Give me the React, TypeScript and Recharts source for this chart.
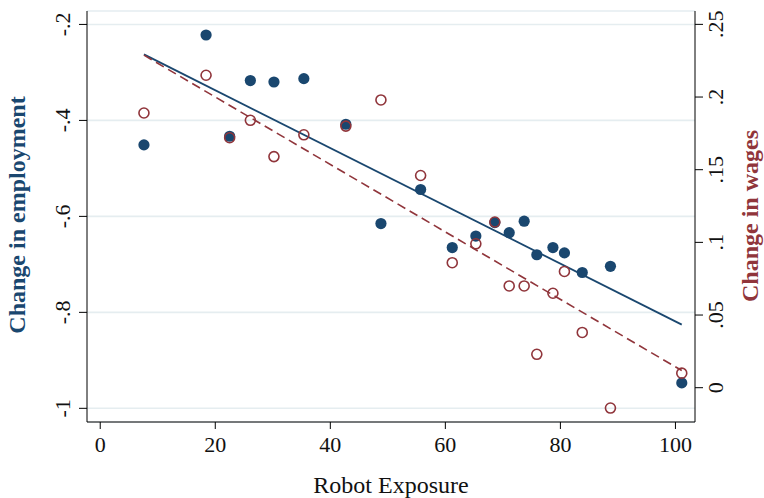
import React from 'react';
import { ScatterChart, Scatter, XAxis, YAxis, CartesianGrid } from 'recharts';

const robotExposure = [7.6, 18.4, 22.5, 26.1, 30.2, 35.4, 42.7, 48.8, 55.7, 61.2, 65.3, 68.6, 71.1, 73.7, 75.9, 78.7, 80.7, 83.8, 88.7, 101.1];
const employmentChange = [-0.451, -0.222, -0.433, -0.317, -0.32, -0.313, -0.408, -0.615, -0.544, -0.665, -0.641, -0.613, -0.634, -0.61, -0.68, -0.665, -0.676, -0.717, -0.704, -0.947];
const wageChange = [0.189, 0.215, 0.172, 0.184, 0.159, 0.174, 0.18, 0.198, 0.146, 0.086, 0.099, 0.114, 0.07, 0.07, 0.023, 0.065, 0.08, 0.038, -0.014, 0.01];

// fitted line endpoints
const fitX = [7.6, 101.1];
const employmentFit = [-0.2625, -0.8256];
const wageFit = [0.2288, 0.0118];

const xTicks = [0, 20, 40, 60, 80, 100];
const employmentTicks = [-1, -0.8, -0.6, -0.4, -0.2];
const wageTicks = [0, 0.05, 0.1, 0.15, 0.2, 0.25];

const NAVY = '#1a476f';
const MAROON = '#90353b';
const FONT = '"Liberation Serif", serif';

const empPoints = robotExposure.map((x, i) => ({ x, y: employmentChange[i] }));
const wagePoints = robotExposure.map((x, i) => ({ x, y: wageChange[i] }));
const empFitPoints = fitX.map((x, i) => ({ x, y: employmentFit[i] }));
const wageFitPoints = fitX.map((x, i) => ({ x, y: wageFit[i] }));

// Stata style: drop the leading zero, ".25", "-.4"
const stataNum = (v: number) => {
  if (v === 0) return '0';
  let s = String(Number(v.toFixed(2)));
  return s.replace(/^(-?)0\./, '$1.');
};

const LeftTick = (props: any) => {
  const { y, payload } = props;
  return (
    <text transform={`translate(70, ${y}) rotate(-90)`} textAnchor="middle" fontFamily={FONT} fontSize={22} fill="#111">
      {stataNum(payload.value)}
    </text>
  );
};

const RightTick = (props: any) => {
  const { y, payload } = props;
  return (
    <text transform={`translate(723, ${y}) rotate(-90)`} textAnchor="middle" fontFamily={FONT} fontSize={22} fill="#111">
      {stataNum(payload.value)}
    </text>
  );
};

const BottomTick = (props: any) => {
  const { x, payload } = props;
  return (
    <text x={x} y={452} textAnchor="middle" fontFamily={FONT} fontSize={22} fill="#111">
      {payload.value}
    </text>
  );
};

const Dot = (props: any) => <circle cx={props.cx} cy={props.cy} r={5.6} fill={NAVY} />;
const Ring = (props: any) => <circle cx={props.cx} cy={props.cy} r={5} fill="none" stroke={MAROON} strokeWidth={1.6} />;
const NoShape = () => <g />;

export default function App() {
  return (
    <div style={{ position: 'absolute', left: 0, top: 0, width: 764, height: 498, background: '#fff' }}>
      <ScatterChart width={764} height={498} margin={{ top: 11, right: 0, bottom: 0, left: 0 }}>
        <CartesianGrid yAxisId="emp" vertical={false} stroke="#e5edf0" strokeWidth={1.6} />
        <XAxis
          type="number"
          dataKey="x"
          domain={[-2.3, 103.4]}
          allowDataOverflow
          ticks={xTicks}
          height={76}
          tick={<BottomTick />}
          tickSize={7}
          axisLine={{ stroke: '#000' }}
          tickLine={{ stroke: '#000' }}
        />
        <YAxis
          yAxisId="emp"
          type="number"
          orientation="left"
          domain={[-1.0285, -0.172]}
          allowDataOverflow
          ticks={employmentTicks}
          width={87}
          tick={<LeftTick />}
          tickSize={8}
          axisLine={{ stroke: '#000' }}
          tickLine={{ stroke: '#000' }}
          label={{
            content: () => (
              <text transform="translate(25, 215) rotate(-90)" textAnchor="middle" fontFamily={FONT} fontSize={24} fontWeight="bold" fill={NAVY}>
                Change in employment
              </text>
            ),
          }}
        />
        <YAxis
          yAxisId="wage"
          type="number"
          orientation="right"
          domain={[-0.0236, 0.2592]}
          allowDataOverflow
          ticks={wageTicks}
          width={69}
          tick={<RightTick />}
          tickSize={8}
          axisLine={{ stroke: '#000' }}
          tickLine={{ stroke: '#000' }}
          label={{
            content: () => (
              <text transform="translate(758, 216) rotate(-90)" textAnchor="middle" fontFamily={FONT} fontSize={24} fontWeight="bold" fill={MAROON}>
                Change in wages
              </text>
            ),
          }}
        />
        <Scatter
          yAxisId="emp"
          data={empFitPoints}
          dataKey="y"
          shape={<NoShape />}
          line={{ stroke: NAVY, strokeWidth: 1.8 }}
          isAnimationActive={false}
        />
        <Scatter
          yAxisId="wage"
          data={wageFitPoints}
          dataKey="y"
          shape={<NoShape />}
          line={{ stroke: MAROON, strokeWidth: 1.6, strokeDasharray: '9 5' }}
          isAnimationActive={false}
        />
        <Scatter yAxisId="emp" data={empPoints} dataKey="y" shape={<Dot />} isAnimationActive={false} />
        <Scatter yAxisId="wage" data={wagePoints} dataKey="y" shape={<Ring />} isAnimationActive={false} />
      </ScatterChart>
      <div
        style={{
          position: 'absolute',
          left: 87,
          width: 608,
          top: 472,
          textAlign: 'center',
          fontFamily: FONT,
          fontSize: 24,
          color: '#111',
        }}
      >
        Robot Exposure
      </div>
    </div>
  );
}
